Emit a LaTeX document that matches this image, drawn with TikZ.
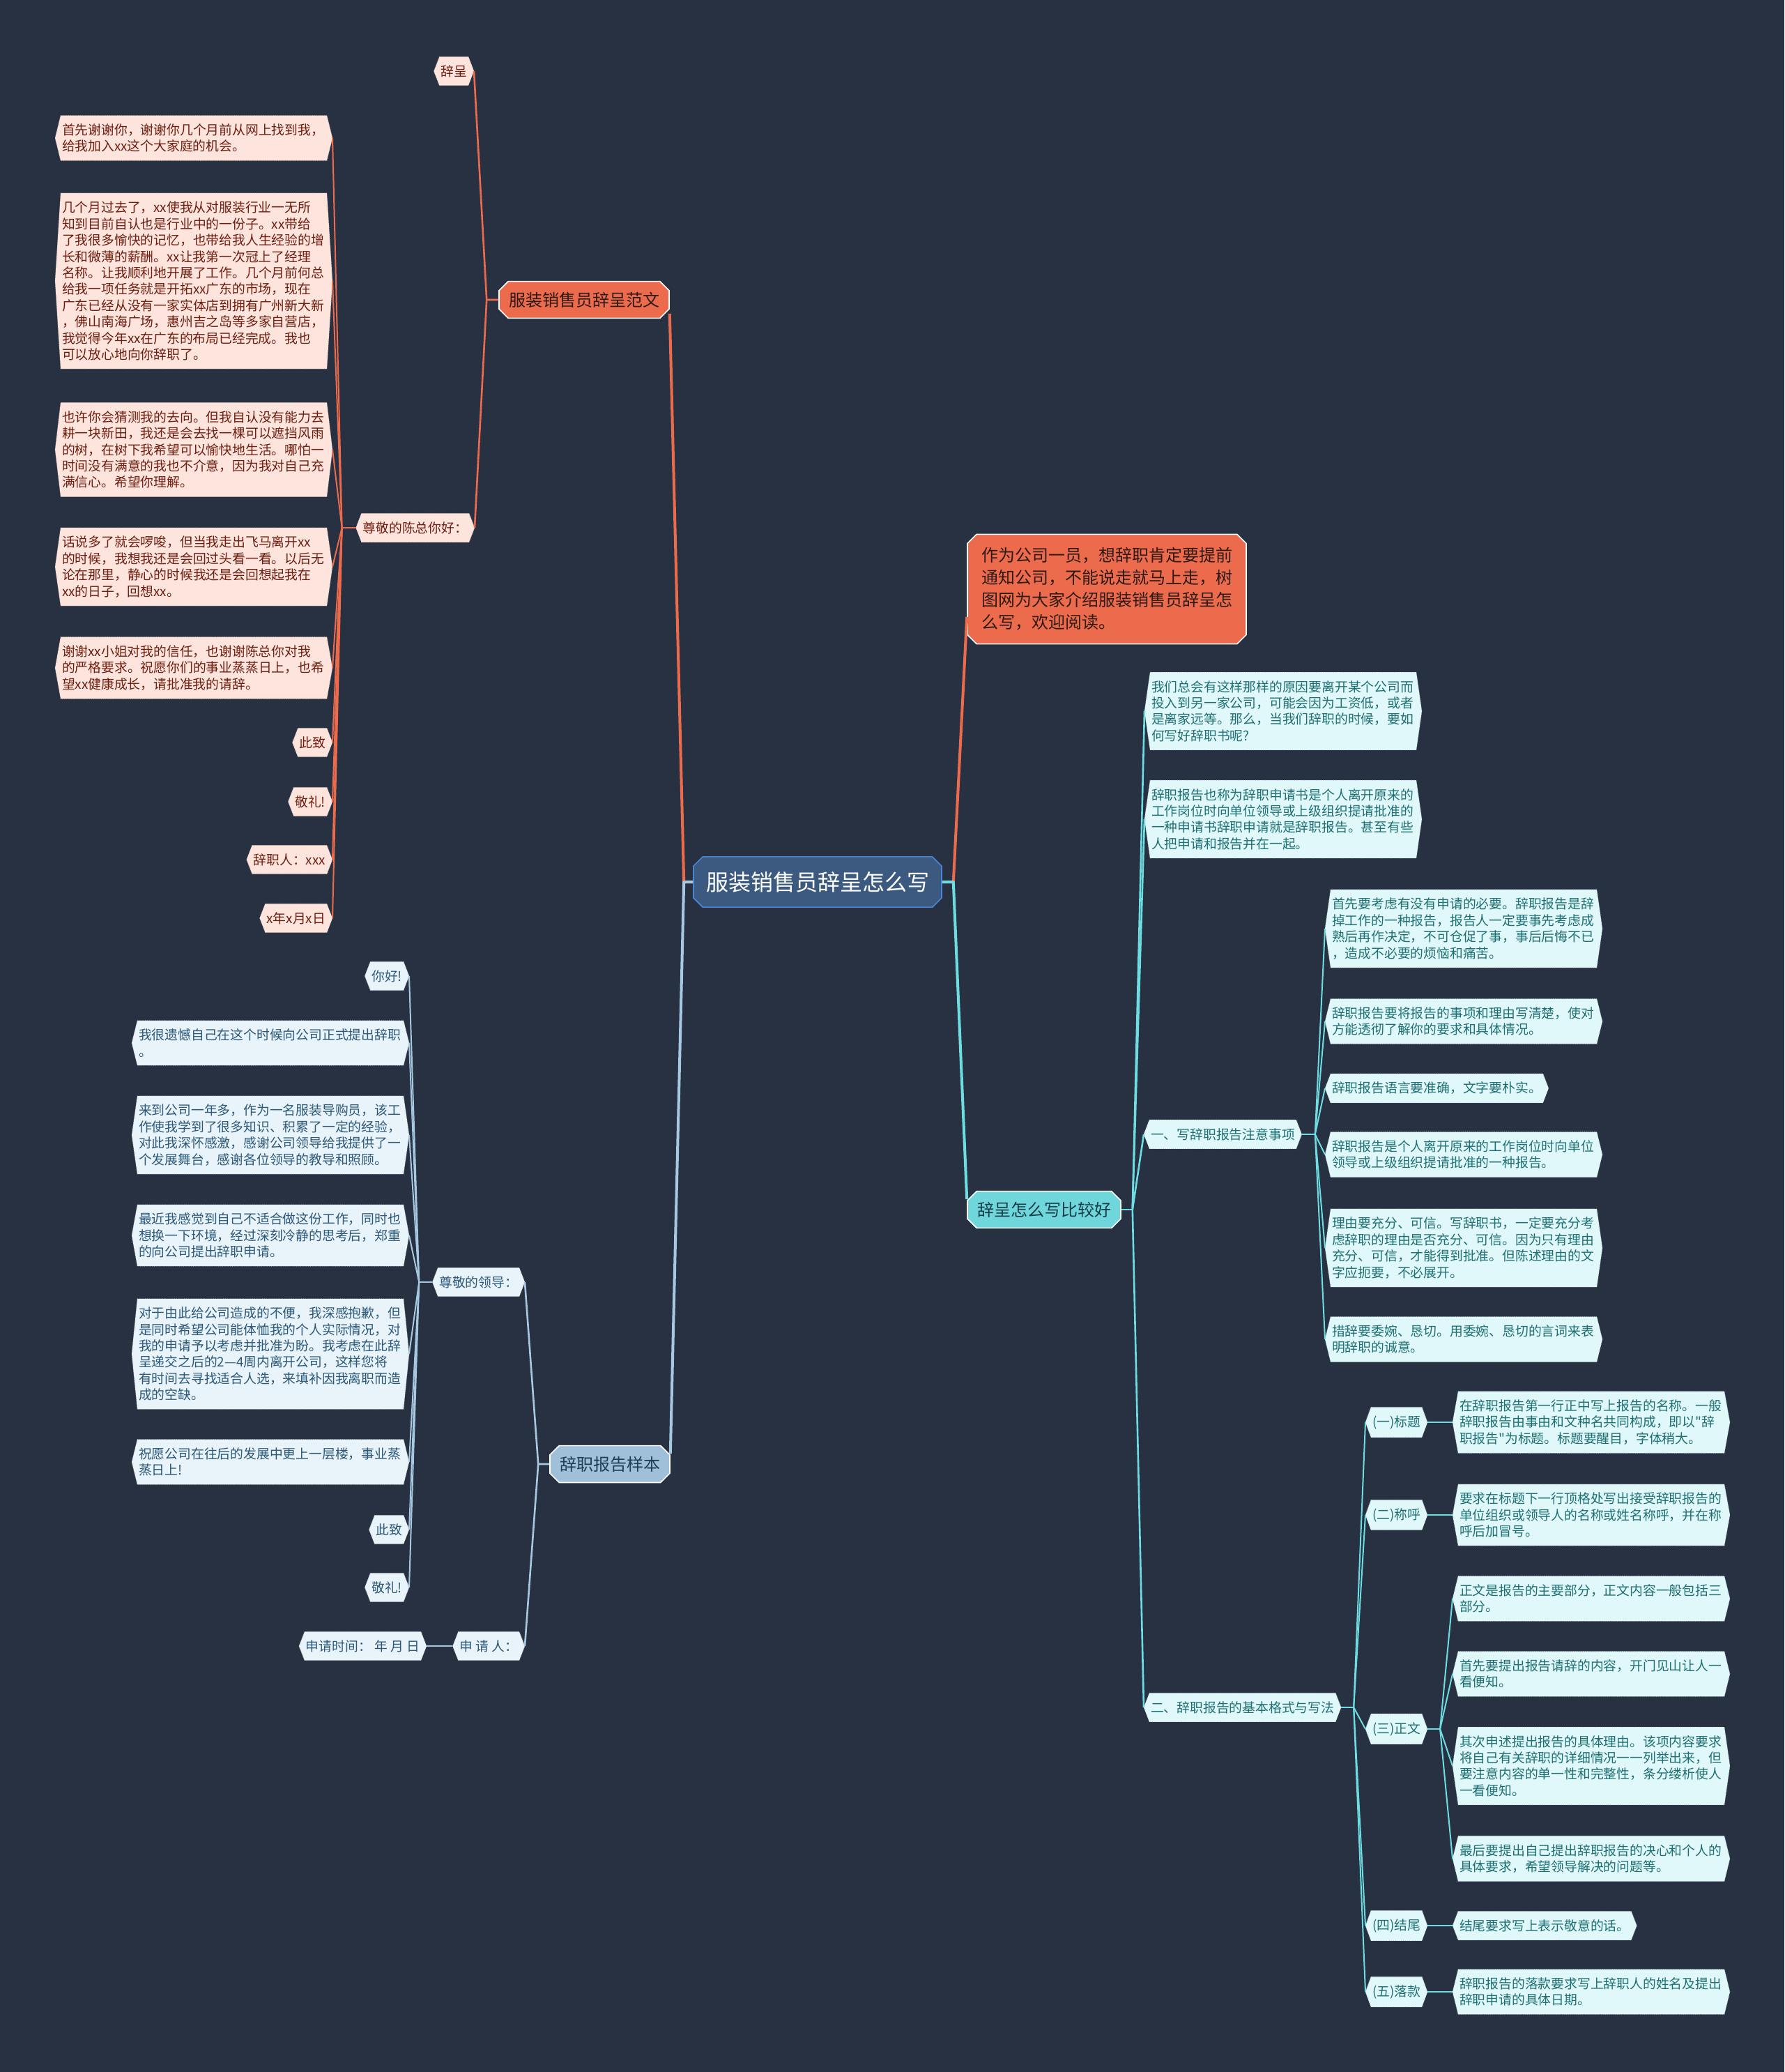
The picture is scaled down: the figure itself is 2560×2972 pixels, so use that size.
\documentclass[tikz,border=0pt]{standalone}
\usepackage{fontspec}
\setmainfont{Noto Sans CJK SC}[Ligatures=TeXOff]
\usetikzlibrary{shapes.misc,backgrounds}
\definecolor{PageBg}{HTML}{283142}
\definecolor{Coral}{HTML}{EC6B4D}
\definecolor{CoralInk}{HTML}{2E1A14}
\definecolor{Blush}{HTML}{FDE5DD}
\definecolor{BlushInk}{HTML}{6E1E10}
\definecolor{Steel}{HTML}{A6C8E0}
\definecolor{SteelNode}{HTML}{9FC0D8}
\definecolor{SteelInk}{HTML}{203D55}
\definecolor{Frost}{HTML}{E9F3FA}
\definecolor{FrostInk}{HTML}{2C5978}
\definecolor{Aqua}{HTML}{6DDDE2}
\definecolor{AquaNode}{HTML}{6FD6DC}
\definecolor{AquaInk}{HTML}{163D45}
\definecolor{Mint}{HTML}{E0F8F9}
\definecolor{MintInk}{HTML}{1E6F73}
\definecolor{Navy}{HTML}{3C5A7F}
\definecolor{NavyEdge}{HTML}{4B86D6}

% hexagon behind a tag node (its east/west anchors are the points)
\newcommand\hexfill[2]{%
  \filldraw[#1] ([shift={(8,0)}]#2.north west) -- ([shift={(-8,0)}]#2.north east)
    -- (#2.east) -- ([shift={(-8,0)}]#2.south east)
    -- ([shift={(8,0)}]#2.south west) -- (#2.west) -- cycle;}

\begin{document}
\begin{tikzpicture}[x=0.5pt,y=-0.5pt,
    every node/.style={font=\fontsize{9.4}{11.7}\selectfont},
    tag/.style={inner xsep=1pt,inner ysep=6pt,outer xsep=4pt,outer ysep=0pt,align=left},
    wide/.style={tag,text width=189pt},
    branch/.style={chamfered rectangle,chamfered rectangle xsep=3pt,draw=white,line width=0.8pt,
      inner xsep=4pt,inner ysep=4pt,font=\fontsize{12}{16}\selectfont,align=left},
    ohex/.style={fill=Blush,draw=Blush!70!black,densely dotted,line width=0.4pt},
    bhex/.style={fill=Frost,draw=Frost!70!black,densely dotted,line width=0.4pt},
    chex/.style={fill=Mint,draw=Mint!70!black,densely dotted,line width=0.4pt},
    omain/.style={Coral,line width=2pt,line join=round},
    bmain/.style={Steel,line width=2pt,line join=round},
    cmain/.style={Aqua,line width=2pt,line join=round},
    olink/.style={Coral,line width=1.3pt,line join=round},
    blink/.style={Steel,line width=1.3pt,line join=round},
    clink/.style={Aqua,line width=1.3pt,line join=round},
    oleaf/.style={Coral,line width=1pt},
    bleaf/.style={Steel,line width=1pt},
    cleaf/.style={Aqua,line width=1pt}
  ]
  \useasboundingbox (0,0) rectangle (2560,2972);
  \begin{scope}[on background layer]
    \fill[PageBg] (0,0) rectangle (2560,2972);
  \end{scope}

  % centre and first level
  \node[branch,fill=Navy,draw=NavyEdge,text=white,font=\fontsize{16}{20}\selectfont,
    inner xsep=6pt,inner ysep=7pt] (root) at (1173,1265) {服装销售员辞呈怎么写};
  \node[branch,fill=Coral,text=CoralInk] (fanwen) at (838,430) {服装销售员辞呈范文};
  \node[branch,fill=Coral,text=CoralInk,inner xsep=7pt,inner ysep=6pt] (desc) at (1588,845)
    {作为公司一员，想辞职肯定要提前\\通知公司，不能说走就马上走，树\\图网为大家介绍服装销售员辞呈怎\\么写，欢迎阅读。};
  \node[branch,fill=SteelNode,text=SteelInk] (yangben) at (875,2100) {辞职报告样本};
  \node[branch,fill=AquaNode,text=AquaInk] (bijiao) at (1498,1735) {辞呈怎么写比较好};

  % orange branch
  \begin{scope}[every node/.append style={text=BlushInk}]
    \node[tag,anchor=east] (cichen) at (680,102) {辞呈};
    \node[tag,anchor=east] (chen) at (681,757) {尊敬的陈总你好：};
    \node[wide,anchor=east] (o1) at (477,198) {首先谢谢你，谢谢你几个月前从网上找到我，\\给我加入xx这个大家庭的机会。};
    \node[wide,anchor=east] (o2) at (477,403) {几个月过去了，xx使我从对服装行业一无所\\知到目前自认也是行业中的一份子。xx带给\\了我很多愉快的记忆，也带给我人生经验的增\\长和微薄的薪酬。xx让我第一次冠上了经理\\名称。让我顺利地开展了工作。几个月前何总\\给我一项任务就是开拓xx广东的市场，现在\\广东已经从没有一家实体店到拥有广州新大新\\，佛山南海广场，惠州吉之岛等多家自营店，\\我觉得今年xx在广东的布局已经完成。我也\\可以放心地向你辞职了。};
    \node[wide,anchor=east] (o3) at (477,645) {也许你会猜测我的去向。但我自认没有能力去\\耕一块新田，我还是会去找一棵可以遮挡风雨\\的树，在树下我希望可以愉快地生活。哪怕一\\时间没有满意的我也不介意，因为我对自己充\\满信心。希望你理解。};
    \node[wide,anchor=east] (o4) at (477,813) {话说多了就会啰唆，但当我走出飞马离开xx\\的时候，我想我还是会回过头看一看。以后无\\论在那里，静心的时候我还是会回想起我在\\xx的日子，回想xx。};
    \node[wide,anchor=east] (o5) at (477,958) {谢谢xx小姐对我的信任，也谢谢陈总你对我\\的严格要求。祝愿你们的事业蒸蒸日上，也希\\望xx健康成长，请批准我的请辞。};
    \node[tag,anchor=east] (o6) at (477,1065) {此致};
    \node[tag,anchor=east] (o7) at (477,1150) {敬礼!};
    \node[tag,anchor=east] (o8) at (477,1233) {辞职人：xxx};
    \node[tag,anchor=east] (o9) at (477,1317) {x年x月x日};
  \end{scope}

  % blue branch
  \begin{scope}[every node/.append style={text=FrostInk}]
    \node[tag,anchor=east] (lingdao) at (753,1839) {尊敬的领导：};
    \node[tag,anchor=east] (shen) at (753,2361) {申 请 人：};
    \node[tag,anchor=east] (shijian) at (612,2361) {申请时间：\ 年 月 日};
    \node[tag,anchor=east] (b1) at (587,1400) {你好!};
    \node[wide,anchor=east] (b2) at (587,1496) {我很遗憾自己在这个时候向公司正式提出辞职\\。};
    \node[wide,anchor=east] (b3) at (587,1628) {来到公司一年多，作为一名服装导购员，该工\\作使我学到了很多知识、积累了一定的经验，\\对此我深怀感激，感谢公司领导给我提供了一\\个发展舞台，感谢各位领导的教导和照顾。};
    \node[wide,anchor=east] (b4) at (587,1772) {最近我感觉到自己不适合做这份工作，同时也\\想换一下环境，经过深刻冷静的思考后，郑重\\的向公司提出辞职申请。};
    \node[wide,anchor=east] (b5) at (587,1942) {对于由此给公司造成的不便，我深感抱歉，但\\是同时希望公司能体恤我的个人实际情况，对\\我的申请予以考虑并批准为盼。我考虑在此辞\\呈递交之后的2—4周内离开公司，这样您将\\有时间去寻找适合人选，来填补因我离职而造\\成的空缺。};
    \node[wide,anchor=east] (b6) at (587,2097) {祝愿公司在往后的发展中更上一层楼，事业蒸\\蒸日上!};
    \node[tag,anchor=east] (b7) at (587,2194) {此致};
    \node[tag,anchor=east] (b8) at (587,2277) {敬礼!};
  \end{scope}

  % cyan branch
  \begin{scope}[every node/.append style={text=MintInk}]
    \node[wide,anchor=west] (c1) at (1642,1020) {我们总会有这样那样的原因要离开某个公司而\\投入到另一家公司，可能会因为工资低，或者\\是离家远等。那么，当我们辞职的时候，要如\\何写好辞职书呢?};
    \node[wide,anchor=west] (c2) at (1642,1175) {辞职报告也称为辞职申请书是个人离开原来的\\工作岗位时向单位领导或上级组织提请批准的\\一种申请书辞职申请就是辞职报告。甚至有些\\人把申请和报告并在一起。};
    \node[tag,anchor=west] (zhuyi) at (1641,1627) {一、写辞职报告注意事项};
    \node[tag,anchor=west] (geshi) at (1641,2449) {二、辞职报告的基本格式与写法};
    \node[wide,anchor=west] (d1) at (1901,1332) {首先要考虑有没有申请的必要。辞职报告是辞\\掉工作的一种报告，报告人一定要事先考虑成\\熟后再作决定，不可仓促了事，事后后悔不已\\，造成不必要的烦恼和痛苦。};
    \node[wide,anchor=west] (d2) at (1901,1465) {辞职报告要将报告的事项和理由写清楚，使对\\方能透彻了解你的要求和具体情况。};
    \node[tag,anchor=west] (d3) at (1901,1561) {辞职报告语言要准确，文字要朴实。};
    \node[wide,anchor=west] (d4) at (1901,1656) {辞职报告是个人离开原来的工作岗位时向单位\\领导或上级组织提请批准的一种报告。};
    \node[wide,anchor=west] (d5) at (1901,1790) {理由要充分、可信。写辞职书，一定要充分考\\虑辞职的理由是否充分、可信。因为只有理由\\充分、可信，才能得到批准。但陈述理由的文\\字应扼要，不必展开。};
    \node[wide,anchor=west] (d6) at (1901,1921) {措辞要委婉、恳切。用委婉、恳切的言词来表\\明辞职的诚意。};
    \node[tag,anchor=west] (biaoti) at (1959,2040) {(一)标题};
    \node[tag,anchor=west] (chenghu) at (1959,2173) {(二)称呼};
    \node[tag,anchor=west] (zhengwen) at (1959,2480) {(三)正文};
    \node[tag,anchor=west] (jiewei) at (1959,2762) {(四)结尾};
    \node[tag,anchor=west] (luokuan) at (1959,2857) {(五)落款};
    \node[wide,anchor=west] (e1) at (2084,2040) {在辞职报告第一行正中写上报告的名称。一般\\辞职报告由事由和文种名共同构成，即以"辞\\职报告"为标题。标题要醒目，字体稍大。};
    \node[wide,anchor=west] (e2) at (2084,2173) {要求在标题下一行顶格处写出接受辞职报告的\\单位组织或领导人的名称或姓名称呼，并在称\\呼后加冒号。};
    \node[wide,anchor=west] (e3) at (2084,2293) {正文是报告的主要部分，正文内容一般包括三\\部分。};
    \node[wide,anchor=west] (e4) at (2084,2401) {首先要提出报告请辞的内容，开门见山让人一\\看便知。};
    \node[wide,anchor=west] (e5) at (2084,2533) {其次申述提出报告的具体理由。该项内容要求\\将自己有关辞职的详细情况一一列举出来，但\\要注意内容的单一性和完整性，条分缕析使人\\一看便知。};
    \node[wide,anchor=west] (e6) at (2084,2666) {最后要提出自己提出辞职报告的决心和个人的\\具体要求，希望领导解决的问题等。};
    \node[tag,anchor=west] (e7) at (2084,2762) {结尾要求写上表示敬意的话。};
    \node[wide,anchor=west] (e8) at (2084,2857) {辞职报告的落款要求写上辞职人的姓名及提出\\辞职申请的具体日期。};
  \end{scope}

  % hexagon fills
  \begin{scope}[on background layer]
    \foreach \n in {cichen,chen,o1,o2,o3,o4,o5,o6,o7,o8,o9} \hexfill{ohex}{\n};
    \foreach \n in {lingdao,shen,shijian,b1,b2,b3,b4,b5,b6,b7,b8} \hexfill{bhex}{\n};
    \foreach \n in {c1,c2,zhuyi,geshi,d1,d2,d3,d4,d5,d6,biaoti,chenghu,zhengwen,jiewei,luokuan,e1,e2,e3,e4,e5,e6,e7,e8}
      \hexfill{chex}{\n};
  \end{scope}

  % junctions
  \coordinate (jl) at ([shift={(-13,0)}]root.west);
  \coordinate (jr) at ([shift={(16,0)}]root.east);
  \coordinate (jfan) at ([shift={(-17,0)}]fanwen.west);
  \coordinate (jchen) at ([shift={(-20,0)}]chen.west);
  \coordinate (jyang) at ([shift={(-16,0)}]yangben.west);
  \coordinate (jling) at ([shift={(-19,0)}]lingdao.west);
  \coordinate (jbi) at ([shift={(16,0)}]bijiao.east);
  \coordinate (jzhu) at ([shift={(19,0)}]zhuyi.east);
  \coordinate (jge) at ([shift={(18,0)}]geshi.east);
  \coordinate (jzheng) at ([shift={(18,0)}]zhengwen.east);

  % connectors
  \draw[omain] (root.west) -- (jl) -- ([shift={(0,20)}]fanwen.east);
  \draw[bmain] (root.west) -- (jl) -- ([shift={(0,-15)}]yangben.east);
  \draw[omain] (root.east) -- (jr) -- ([shift={(0,40)}]desc.west);
  \draw[cmain] (root.east) -- (jr) -- ([shift={(0,-15)}]bijiao.west);

  \draw[olink] (fanwen.west) -- (jfan) -- (cichen.east);
  \draw[olink] (jfan) -- (chen.east);
  \draw[olink] (chen.west) -- (jchen);
  \foreach \n in {o1,o2,o3,o4,o5,o6,o7,o8,o9} \draw[oleaf] (jchen) -- (\n.east);

  \draw[blink] (yangben.west) -- (jyang) -- (lingdao.east);
  \draw[blink] (jyang) -- (shen.east);
  \draw[blink] (lingdao.west) -- (jling);
  \foreach \n in {b1,b2,b3,b4,b5,b6,b7,b8} \draw[bleaf] (jling) -- (\n.east);
  \draw[blink] (shen.west) -- (shijian.east);

  \draw[clink] (bijiao.east) -- (jbi);
  \foreach \n in {c1,c2,zhuyi,geshi} \draw[clink] (jbi) -- (\n.west);
  \draw[clink] (zhuyi.east) -- (jzhu);
  \foreach \n in {d1,d2,d3,d4,d5,d6} \draw[cleaf] (jzhu) -- (\n.west);
  \draw[clink] (geshi.east) -- (jge);
  \foreach \n in {biaoti,chenghu,zhengwen,jiewei,luokuan} \draw[cleaf] (jge) -- (\n.west);
  \draw[cleaf] (biaoti.east) -- (e1.west);
  \draw[cleaf] (chenghu.east) -- (e2.west);
  \draw[cleaf] (zhengwen.east) -- (jzheng);
  \foreach \n in {e3,e4,e5,e6} \draw[cleaf] (jzheng) -- (\n.west);
  \draw[cleaf] (jiewei.east) -- (e7.west);
  \draw[cleaf] (luokuan.east) -- (e8.west);
\end{tikzpicture}
\end{document}
